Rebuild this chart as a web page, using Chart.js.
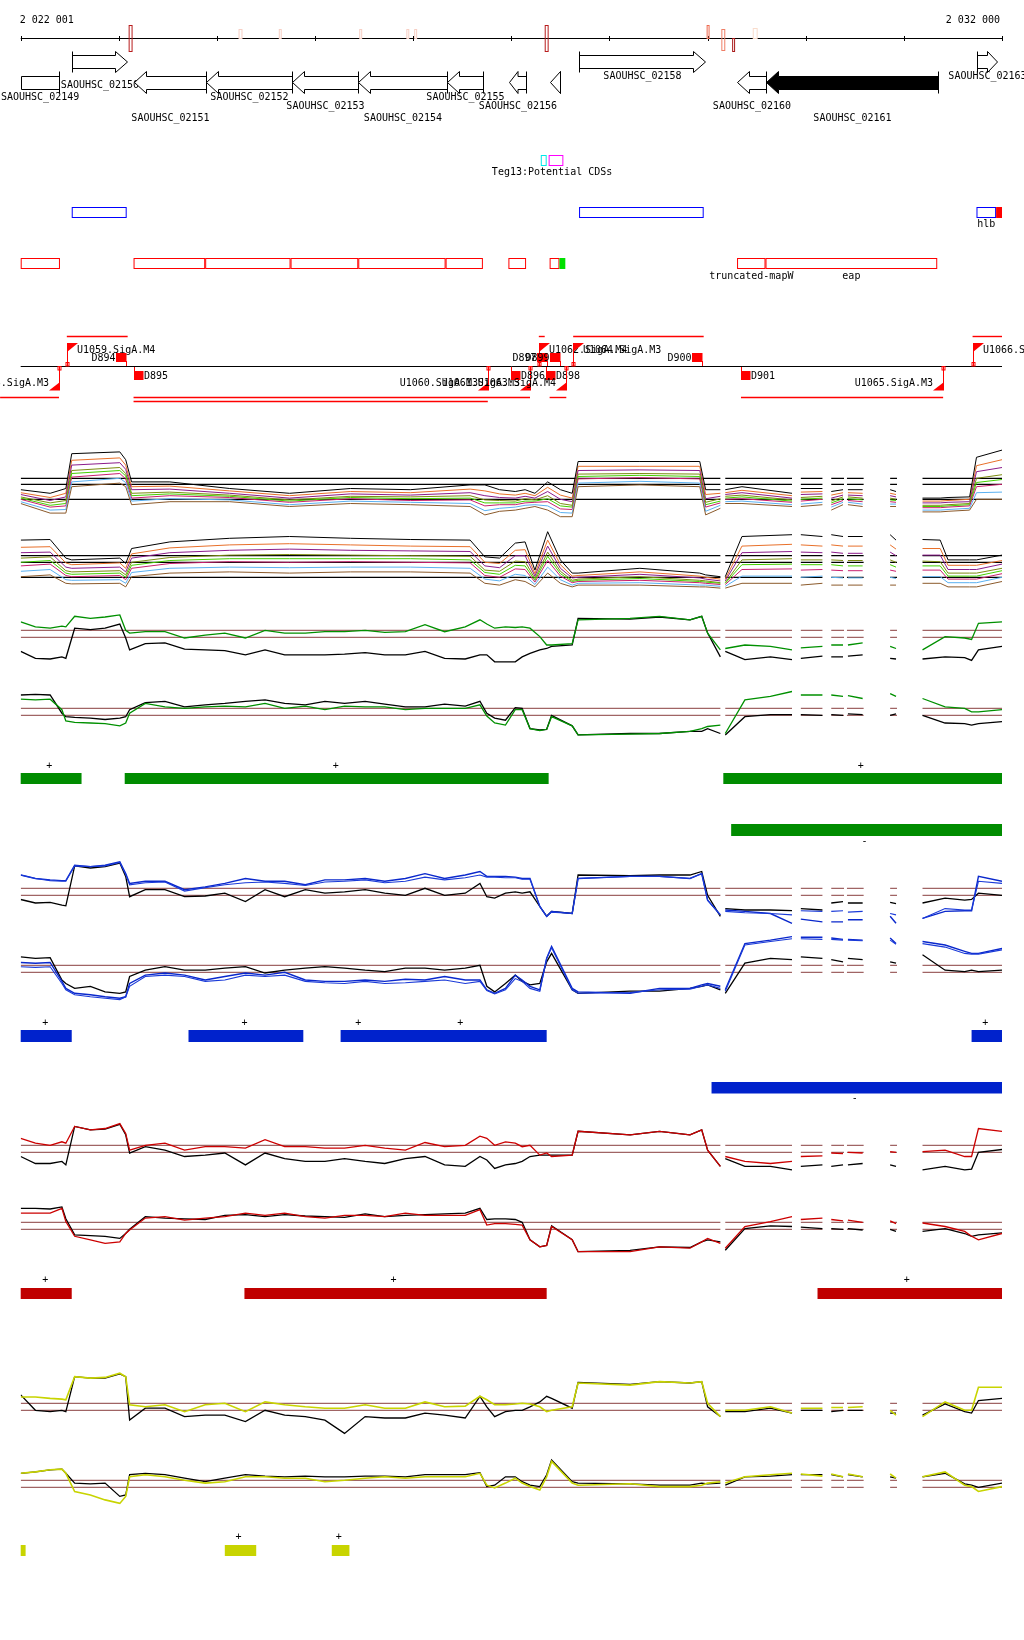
<!DOCTYPE html>
<html>
<head>
<meta charset="utf-8">
<title>SAOUHSC_02149 - SAOUHSC_02163</title>
<script src="https://cdn.jsdelivr.net/npm/chart.js@4.4.1/dist/chart.umd.min.js"></script>
<style>
  html, body { margin: 0; padding: 0; background: #fff; }
  canvas { display: block; }
</style>
</head>
<body>
<canvas id="browserChart" width="1024" height="1640"></canvas>
<script>
// region shown (bp)
const regionStart = 2022000;
const regionEnd = 2032000;
const axisLabels = ['2 022 001', '2 032 000'];
const axisTicks = [2022000, 2023000, 2024000, 2025000, 2026000, 2027000, 2028000, 2029000, 2030000, 2031000, 2032000];

// variant marks on the ruler
const markStarts = [2023100, 2024220, 2024630, 2025450, 2025930, 2026010, 2027340, 2028990, 2029140, 2029250, 2029460];
const markEnds   = [2023140, 2024260, 2024660, 2025480, 2025960, 2026040, 2027380, 2029020, 2029180, 2029280, 2029510];

// genes
const geneNames  = ['SAOUHSC_02149', 'SAOUHSC_02150', 'SAOUHSC_02151', 'SAOUHSC_02152', 'SAOUHSC_02153', 'SAOUHSC_02154', 'SAOUHSC_02155', 'SAOUHSC_02156', 'SAOUHSC_02157', 'SAOUHSC_02158', 'SAOUHSC_02160', 'SAOUHSC_02161', 'SAOUHSC_02163'];
const geneLeft   = [2021700, 2022520, 2023150, 2023890, 2024760, 2025440, 2026340, 2026980, 2027390, 2027690, 2029300, 2029600, 2031750];
const geneRight  = [2022390, 2023080, 2023890, 2024760, 2025440, 2026340, 2026710, 2027150, 2027500, 2028970, 2029600, 2031350, 2031950];
const geneStrand = ['-', '+', '-', '-', '-', '-', '-', '-', '-', '+', '-', '-', '+'];
const selectedGene = 'SAOUHSC_02161';

// other annotation tracks
const tegNames = ['Teg13', 'Potential CDSs'];
const tegStarts = [2027300, 2027380];
const tegEnds = [2027360, 2027530];
const blueStarts = [2022520, 2027690, 2031740];
const blueEnds = [2023080, 2028960, 2031940];
const blueNames = ['', '', 'hlb'];
const blueTail = [2031940, 2032000];
const redStarts = [2022000, 2023150, 2023880, 2024750, 2025440, 2026330, 2026970, 2027390, 2029300, 2029590];
const redEnds   = [2022400, 2023880, 2024750, 2025440, 2026330, 2026710, 2027150, 2027490, 2029590, 2031340];
const redNames  = ['', '', '', '', '', '', '', '', 'truncated-mapW', 'eap'];
const greenBox = [2027490, 2027550];

// SigA promoters (P) and terminators (T)
const sigNames  = ['U1058.SigA.M3', 'U1059.SigA.M4', 'D894', 'D895', 'U1060.SigA.M3', 'U1061.SigA.M3', 'D896', 'D897', 'U1062.SigA.M4', 'D899', 'D898', 'U1063.SigA.M4', 'U1064.SigA.M3', 'D900', 'D901', 'U1065.SigA.M3', 'U1066.SigA.M3'];
const sigPos    = [2022390, 2022470, 2023070, 2023150, 2026760, 2027190, 2027000, 2027360, 2027280, 2027500, 2027350, 2027560, 2027630, 2028940, 2029340, 2031400, 2031700];
const sigStrand = ['-', '+', '+', '-', '-', '-', '-', '+', '+', '+', '-', '-', '+', '+', '-', '-', '+'];
const sigKind   = ['P', 'P', 'T', 'T', 'P', 'P', 'T', 'T', 'P', 'T', 'T', 'P', 'P', 'T', 'T', 'P', 'P'];
const unitStarts = [2022470, 2027280, 2027630, 2031700, 2021790, 2023150, 2027390, 2029340, 2023150];
const unitEnds   = [2023090, 2027340, 2028960, 2032000, 2022390, 2027190, 2027560, 2031400, 2026760];
const unitLevel  = [0, 0, 0, 0, 1, 1, 1, 1, 2];

// covered segments of the tiling arrays
const segments = [[2022000, 2029130], [2029180, 2029860], [2029950, 2030170], [2030260, 2030390], [2030420, 2030590], [2030860, 2030930], [2031190, 2032000]];

// expression profiles, sample positions
const positions = [2022000, 2022150, 2022300, 2022420, 2022460, 2022550, 2022710, 2022860, 2023010, 2023070,
  2023110, 2023270, 2023470, 2023670, 2023880, 2024080, 2024290, 2024490, 2024690, 2024900,
  2025100, 2025300, 2025510, 2025710, 2025920, 2026120, 2026320, 2026530, 2026680, 2026750,
  2026830, 2026940, 2027040, 2027110, 2027190, 2027290, 2027360, 2027410, 2027620, 2027680,
  2028210, 2028510, 2028820, 2028940, 2029000, 2029130, 2029150, 2029180, 2029380, 2029640,
  2029860, 2029900, 2029950, 2030170, 2030210, 2030260, 2030380, 2030400, 2030430, 2030580,
  2030720, 2030860, 2030920, 2031060, 2031190, 2031420, 2031620, 2031690, 2031760, 2032000];

const greenPlus = [2.2, 1.5, 1.3, 1.6, 1.5, 3.0, 2.7, 2.9, 3.2, 1.0,
  0.6, 0.8, 0.8, -0.1, 0.3, 0.6, -0.1, 1.0, 0.6, 0.6,
  0.8, 0.8, 1.0, 0.7, 0.8, 1.8, 0.8, 1.5, 2.5, 1.9,
  1.3, 1.5, 1.4, 1.5, 1.3, 0.1, -1.1, -1.1, -0.9, 2.5,
  2.7, 3.0, 2.5, 3.0, 0.6, -1.8, null, -1.6, -1.1, -1.3,
  -1.8, null, -1.5, -1.3, null, -1.1, -1.1, null, -1.1, -0.8,
  null, -1.3, -1.6, null, -1.8, 0.1, -0.1, -0.3, 2.0, 2.2];
const greenPlusRef = [-2.0, -3.0, -3.1, -2.8, -3.0, 1.3, 1.1, 1.3, 1.9, -0.1,
  -1.8, -0.9, -0.8, -1.7, -1.8, -1.9, -2.5, -1.8, -2.5, -2.5,
  -2.5, -2.4, -2.2, -2.5, -2.5, -2.0, -3.0, -3.1, -2.5, -2.5,
  -3.5, -3.5, -3.5, -2.8, -2.3, -1.8, -1.6, -1.3, -1.1, 2.7,
  2.6, 2.9, 2.5, 3.0, 0.6, -2.8, null, -2.0, -3.2, -2.8,
  -3.2, null, -3.0, -2.7, null, -2.8, -2.8, null, -2.7, -2.5,
  null, -3.0, -3.1, null, -3.1, -2.8, -2.9, -3.3, -1.8, -1.3];
const greenMinus = [2.3, 2.2, 2.3, 0.8, -0.8, -1.0, -1.1, -1.2, -1.5, -1.1,
  0.3, 1.7, 1.2, 1.0, 1.2, 1.3, 1.2, 1.7, 1.0, 1.3,
  0.8, 1.3, 1.2, 1.2, 0.8, 1.0, 1.0, 1.0, 1.5, -0.1,
  -1.1, -1.4, 0.8, 0.8, -1.9, -2.2, -2.0, -0.2, -1.5, -2.8,
  -2.7, -2.6, -2.3, -1.9, -1.6, -1.4, null, -2.6, 2.2, 2.7,
  3.4, null, 2.9, 2.9, null, 2.9, 2.7, null, 2.8, 2.4,
  null, 3.1, 2.7, null, 2.4, 1.2, 1.0, 0.5, 0.5, 0.8];
const greenMinusRef = [2.9, 3.0, 2.9, 0.3, -0.2, -0.3, -0.4, -0.6, -0.4, -0.2,
  0.8, 1.8, 2.0, 1.2, 1.5, 1.7, 2.0, 2.2, 1.7, 1.5,
  2.0, 1.7, 2.0, 1.6, 1.2, 1.2, 1.6, 1.3, 2.0, 0.3,
  -0.4, -0.7, 1.1, 1.0, -1.9, -2.1, -2.0, 0.0, -1.5, -2.8,
  -2.6, -2.6, -2.3, -2.3, -1.9, -2.6, null, -2.8, -0.2, 0.1,
  0.1, null, 0.1, 0.0, null, 0.1, 0.0, null, 0.2, 0.1,
  null, 0.0, 0.2, null, 0.0, -1.1, -1.2, -1.4, -1.2, -0.9];

const bluePlusA = [2.9, 2.4, 2.2, 2.1, 2.1, 4.3, 4.1, 4.3, 4.8, 3.1,
  1.7, 2.0, 2.0, 0.8, 1.2, 1.7, 2.4, 2.0, 2.0, 1.5,
  2.2, 2.2, 2.4, 2.0, 2.4, 3.1, 2.4, 2.9, 3.4, 2.7,
  2.7, 2.7, 2.6, 2.4, 2.4, -1.6, -3.0, -2.3, -2.6, 2.4,
  2.7, 2.7, 2.4, 3.1, -0.7, -2.8, null, -2.1, -2.3, -2.6,
  -4.0, null, -3.4, -3.8, null, -3.8, -3.8, null, -3.5, -3.5,
  null, -3.0, -4.0, null, -3.3, -2.3, -2.2, -2.2, 2.7, 2.0];
const bluePlusB = [2.9, 2.4, 2.1, 2.0, 2.0, 4.2, 4.1, 4.2, 4.7, 3.0,
  1.5, 1.8, 1.9, 0.6, 1.1, 1.5, 1.8, 1.9, 1.7, 1.4,
  1.9, 2.0, 2.2, 1.8, 2.0, 2.6, 2.2, 2.5, 2.9, 2.6,
  2.6, 2.5, 2.5, 2.3, 2.3, -1.6, -3.0, -2.4, -2.6, 2.4,
  2.7, 2.7, 2.4, 3.1, -0.7, -2.8, null, -2.3, -2.5, -2.6,
  -2.8, null, -2.2, -2.3, null, -2.3, -2.2, null, -2.4, -2.3,
  null, -2.6, -2.8, null, -3.3, -1.9, -2.1, -2.1, 2.0, 1.7];
const bluePlusRef = [-0.6, -1.1, -1.0, -1.4, -1.5, 4.2, 3.9, 4.1, 4.6, 2.7,
  -0.2, 0.8, 0.8, -0.2, -0.1, 0.3, -0.9, 0.8, -0.2, 0.8,
  0.3, 0.5, 0.8, 0.3, 0.0, 1.0, 0.0, 0.3, 1.7, -0.2,
  -0.4, 0.3, 0.5, 0.3, 0.5, -1.6, -3.0, -2.3, -2.6, 2.9,
  2.8, 2.9, 2.9, 3.4, 0.0, -3.0, null, -1.9, -2.1, -2.1,
  -2.2, null, -1.9, -2.1, null, -1.1, -0.9, null, -1.1, -1.1,
  null, -1.0, -1.2, null, -1.1, -0.4, -0.7, -0.6, 0.3, 0.0];
const blueMinusA = [1.4, 1.3, 1.4, -1.3, -2.3, -3.0, -3.2, -3.5, -3.7, -3.5,
  -1.6, -0.4, -0.1, -0.4, -1.1, -0.6, -0.1, -0.4, 0.0, -1.1,
  -1.3, -1.3, -1.1, -1.3, -1.0, -1.1, -0.6, -1.1, -1.1, -2.5,
  -3.0, -2.3, -0.4, -1.1, -2.0, -2.5, 2.0, 3.7, -2.3, -2.8,
  -3.0, -2.3, -2.3, -1.8, -1.6, -2.0, null, -2.5, 4.1, 4.6,
  5.1, null, 5.0, 5.0, null, 4.9, 4.7, null, 4.7, 4.6,
  null, 4.9, 4.1, null, 4.4, 3.9, 3.0, 2.7, 2.7, 3.4];
const blueMinusB = [0.8, 0.7, 0.8, -1.6, -2.5, -3.2, -3.5, -3.7, -3.9, -3.5,
  -2.0, -0.6, -0.4, -0.6, -1.3, -1.1, -0.4, -0.6, -0.4, -1.3,
  -1.5, -1.6, -1.3, -1.6, -1.5, -1.3, -1.1, -1.6, -1.3, -2.6,
  -3.1, -2.5, -0.9, -1.3, -2.3, -2.7, 2.0, 3.5, -2.5, -3.0,
  -2.9, -2.5, -2.4, -2.0, -1.8, -2.3, null, -2.7, 3.9, 4.4,
  4.8, null, 4.8, 4.7, null, 4.7, 4.6, null, 4.6, 4.5,
  null, 4.6, 4.0, null, 4.1, 3.6, 2.7, 2.6, 2.6, 3.2];
const blueMinusRef = [2.2, 2.0, 2.1, -1.1, -1.6, -2.3, -2.0, -2.8, -3.0, -2.8,
  -0.6, 0.3, 0.8, 0.3, 0.3, 0.6, 0.8, -0.1, 0.3, 0.6,
  0.8, 0.6, 0.3, 0.1, 0.6, 0.6, 0.3, 0.6, 1.0, -2.0,
  -2.8, -1.6, -0.4, -1.3, -1.8, -1.6, 1.5, 2.7, -2.5, -3.0,
  -2.7, -2.7, -2.3, -2.0, -1.8, -2.5, null, -3.0, 1.3, 2.0,
  1.8, null, 2.2, 2.0, null, 1.8, 1.5, null, 2.0, 1.8,
  null, 1.5, 1.3, null, 2.5, 0.3, 0.1, 0.3, 0.1, 0.3];

const redPlus = [2.0, 1.3, 1.0, 1.5, 1.3, 3.7, 3.2, 3.4, 4.1, 2.7,
  0.3, 1.0, 1.3, 0.3, 0.8, 0.8, 0.6, 1.8, 0.8, 0.8,
  0.6, 0.6, 1.0, 0.6, 0.3, 1.4, 0.8, 1.0, 2.3, 2.0,
  1.0, 1.5, 1.3, 0.8, 1.0, -0.4, -0.1, -0.6, -0.4, 3.0,
  2.5, 3.0, 2.5, 3.2, 0.3, -2.0, null, -0.6, -1.3, -1.6,
  -1.3, null, -0.6, -0.5, null, -0.1, -0.2, null, 0.0, -0.1,
  null, 0.1, 0.0, null, 0.1, 0.3, -0.6, -0.6, 3.4, 3.0];
const redPlusRef = [-0.6, -1.6, -1.6, -1.3, -1.8, 3.7, 3.2, 3.3, 4.0, 2.5,
  -0.1, 0.8, 0.3, -0.6, -0.4, -0.1, -1.8, -0.1, -0.9, -1.3,
  -1.3, -0.9, -1.3, -1.6, -0.9, -0.6, -1.8, -2.0, -0.6, -1.1,
  -2.3, -1.8, -1.6, -1.3, -0.6, -0.4, -0.4, -0.4, -0.4, 3.0,
  2.5, 3.0, 2.5, 3.2, 0.3, -2.0, null, -0.9, -2.0, -2.0,
  -2.5, null, -2.0, -1.8, null, -2.0, -1.8, null, -1.8, -1.6,
  null, -1.8, -2.0, null, -2.5, -2.0, -2.5, -2.4, 0.0, 0.4];
const redMinus = [2.3, 2.3, 2.3, 3.0, 1.1, -1.0, -1.5, -2.0, -1.8, -0.6,
  -0.1, 1.6, 1.8, 1.3, 1.6, 1.8, 2.3, 2.0, 2.3, 1.8,
  1.6, 2.0, 2.0, 1.8, 2.3, 2.0, 2.0, 2.0, 2.8, 0.6,
  0.8, 0.8, 0.7, 0.6, -1.5, -2.5, -2.3, 0.4, -1.5, -3.2,
  -3.2, -2.5, -2.7, -1.8, -1.3, -2.0, null, -2.7, 0.4, 1.1,
  1.8, null, 1.4, 1.6, null, 1.4, 1.2, null, 1.3, 1.0,
  null, 1.2, 0.8, null, 0.9, 0.4, -0.3, -1.0, -1.5, -0.6];
const redMinusRef = [3.0, 3.0, 2.9, 3.2, 1.5, -0.8, -0.9, -1.0, -1.3, -0.6,
  0.0, 1.8, 1.6, 1.5, 1.4, 2.0, 2.1, 1.8, 2.1, 1.9,
  1.8, 1.7, 2.2, 1.8, 2.0, 2.1, 2.2, 2.3, 3.0, 1.4,
  1.5, 1.5, 1.4, 1.0, -1.5, -2.5, -2.3, 0.5, -1.5, -3.2,
  -3.0, -2.5, -2.6, -1.8, -1.5, -1.8, null, -3.0, 0.1, 0.5,
  0.4, null, 0.3, 0.1, null, 0.1, 0.0, null, 0.1, -0.1,
  null, 0.0, -0.3, null, -0.3, 0.1, -0.6, -1.0, -0.8, -0.5];

const yellowPlus = [1.9, 1.9, 1.7, 1.6, 1.5, 4.8, 4.6, 4.7, 5.3, 4.8,
  0.8, 0.5, 0.8, -0.2, 0.8, 1.0, -0.2, 1.2, 0.8, 0.5,
  0.3, 0.3, 0.8, 0.3, 0.3, 1.2, 0.5, 0.6, 2.0, 1.5,
  0.8, 0.8, 0.9, 1.0, 0.9, 0.5, -0.2, 0.0, 0.5, 3.9,
  3.6, 4.1, 3.9, 4.1, 1.0, -0.9, null, 0.0, 0.0, 0.5,
  -0.4, null, 0.3, 0.3, null, 0.4, 0.4, null, 0.4, 0.5,
  null, 0.0, -0.7, null, -0.9, 1.2, 0.0, 0.0, 3.3, 3.3];
const yellowPlusRef = [2.2, 0.0, -0.2, 0.0, -0.2, 4.8, 4.6, 4.6, 5.2, 4.8,
  -1.4, 0.3, 0.3, -0.9, -0.7, -0.7, -1.6, 0.0, -0.7, -0.9,
  -1.4, -3.3, -0.9, -1.1, -1.1, -0.4, -0.7, -1.1, 2.0, 0.5,
  -0.9, -0.2, 0.0, 0.0, 0.5, 1.2, 2.0, 1.7, 0.3, 4.0,
  3.7, 4.1, 3.9, 4.1, 0.5, -0.9, null, -0.2, -0.2, 0.3,
  -0.4, null, 0.0, 0.0, null, -0.2, 0.0, null, 0.0, 0.0,
  null, -0.4, -0.4, null, -0.7, 0.9, -0.2, -0.4, 1.4, 1.7];
const yellowMinus = [2.0, 2.2, 2.5, 2.6, 2.0, -0.6, -1.1, -1.8, -2.3, -1.3,
  1.5, 1.8, 1.5, 1.0, 0.6, 0.8, 1.5, 1.5, 1.3, 1.3,
  0.8, 1.0, 1.3, 1.5, 1.3, 1.5, 1.5, 1.5, 2.0, 0.3,
  -0.1, 0.6, 1.3, 0.6, 0.1, -0.4, 1.5, 3.7, 0.6, 0.3,
  0.5, 0.1, 0.1, 0.3, 0.6, 0.8, null, 0.6, 1.5, 1.8,
  2.0, null, 1.9, 1.6, null, 1.9, 1.5, null, 1.9, 1.5,
  null, 1.9, 1.3, null, 1.5, 2.2, 0.3, 0.1, -0.6, 0.1];
const yellowMinusRef = [2.0, 2.2, 2.5, 2.6, 2.0, 0.6, 0.5, 0.6, -1.3, -1.1,
  1.8, 2.0, 1.8, 1.3, 0.8, 1.3, 1.8, 1.6, 1.5, 1.6,
  1.5, 1.5, 1.6, 1.6, 1.5, 1.8, 1.8, 1.8, 2.1, 0.1,
  0.3, 1.5, 1.5, 0.8, 0.3, 0.1, 1.8, 3.9, 0.8, 0.6,
  0.5, 0.3, 0.3, 0.6, 0.5, 0.6, null, 0.3, 1.5, 1.6,
  1.8, null, 1.8, 1.8, null, 1.8, 1.5, null, 1.8, 1.5,
  null, 1.5, 1.3, null, 1.5, 2.0, 0.5, 0.3, 0.0, 0.6];

// all-conditions panels (coarser sampling)
const mcPositions = [2022000, 2022300, 2022460, 2022520, 2023010, 2023070, 2023130, 2023520, 2024130, 2024740,
  2025360, 2025970, 2026580, 2026730, 2026880, 2027040, 2027140, 2027240, 2027370, 2027500,
  2027620, 2027680, 2028310, 2028920, 2028980, 2029130, 2029150, 2029180, 2029350, 2029860,
  2029900, 2029950, 2030170, 2030210, 2030260, 2030380, 2030400, 2030430, 2030580, 2030720,
  2030860, 2030920, 2031060, 2031190, 2031370, 2031450, 2031670, 2031740, 2032000];
const allPlus = [
  [1.6, 1.0, 1.8, 7.6, 7.9, 6.6, 2.9, 2.9, 1.8, 1.0, 1.8, 1.6, 2.4, 2.4, 1.6, 1.3, 1.6, 1.0, 2.9, 1.6, 1.0, 6.3, 6.3, 6.3, 1.6, 1.6, null, 1.6, 2.1, 1.0, null, 1.8, 1.8, null, 1.3, 1.6, null, 1.6, 1.6, null, 1.6, 1.3, null, 0.2, 0.2, 0.3, 0.4, 7.0, 8.2],
  [1.1, 0.3, 1.0, 6.5, 6.9, 5.7, 2.1, 2.2, 1.4, 0.6, 1.3, 1.1, 1.7, 1.4, 0.9, 0.7, 1.0, 0.6, 2.0, 0.7, 0.2, 5.5, 5.5, 5.5, 0.8, 1.0, null, 1.1, 1.5, 0.6, null, 1.2, 1.3, null, 0.7, 1.1, null, 1.1, 1.0, null, 1.0, 0.8, null, -0.3, -0.3, -0.2, 0.0, 5.6, 6.6],
  [0.8, -0.2, 0.4, 5.7, 6.1, 5.0, 1.6, 1.7, 1.0, 0.2, 0.9, 0.7, 1.1, 0.6, 0.3, 0.2, 0.5, 0.2, 1.3, 0.0, -0.4, 4.8, 4.9, 4.8, 0.1, 0.5, null, 0.8, 1.1, 0.2, null, 0.8, 0.9, null, 0.2, 0.7, null, 0.7, 0.6, null, 0.6, 0.4, null, -0.6, -0.6, -0.5, -0.4, 4.6, 5.3],
  [0.4, -0.6, -0.2, 4.8, 5.3, 4.3, 1.0, 1.2, 0.7, -0.1, 0.5, 0.4, 0.6, -0.1, -0.2, -0.3, 0.1, -0.1, 0.6, -0.7, -1.0, 4.2, 4.3, 4.2, -0.5, 0.1, null, 0.5, 0.7, -0.1, null, 0.3, 0.5, null, -0.3, 0.4, null, 0.4, 0.2, null, 0.2, 0.0, null, -1.0, -1.0, -0.9, -0.7, 3.5, 4.1],
  [0.2, -1.0, -0.7, 4.3, 4.8, 3.9, 0.6, 0.9, 0.5, -0.3, 0.3, 0.1, 0.2, -0.6, -0.6, -0.6, -0.3, -0.3, 0.1, -1.1, -1.3, 3.8, 4.0, 3.8, -0.9, -0.3, null, 0.2, 0.4, -0.3, null, 0.0, 0.2, null, -0.6, 0.1, null, 0.1, -0.1, null, -0.1, -0.2, null, -1.2, -1.2, -1.1, -0.9, 2.8, 3.3],
  [0.0, -1.3, -1.1, 3.7, 4.3, 3.4, 0.2, 0.6, 0.3, -0.5, 0.1, -0.2, -0.1, -1.1, -0.9, -0.9, -0.6, -0.5, -0.4, -1.6, -1.7, 3.4, 3.6, 3.4, -1.3, -0.6, null, 0.0, 0.1, -0.5, null, -0.3, 0.0, null, -0.9, -0.2, null, -0.2, -0.4, null, -0.4, -0.5, null, -1.4, -1.4, -1.3, -1.1, 2.1, 2.5],
  [-0.4, -1.8, -1.7, 2.9, 3.5, 2.8, -0.3, 0.1, -0.1, -0.9, -0.3, -0.5, -0.7, -1.9, -1.5, -1.3, -1.0, -0.9, -1.1, -2.2, -2.3, 2.7, 3.0, 2.7, -2.0, -1.0, null, -0.4, -0.3, -0.9, null, -0.8, -0.5, null, -1.3, -0.5, null, -0.5, -0.8, null, -0.8, -0.8, null, -1.8, -1.8, -1.7, -1.5, 1.1, 1.2],
  [-0.7, -2.3, -2.3, 2.1, 2.7, 2.1, -0.9, -0.4, -0.4, -1.2, -0.7, -0.9, -1.2, -2.6, -2.0, -1.8, -1.5, -1.2, -1.8, -2.9, -2.9, 2.1, 2.4, 2.1, -2.6, -1.5, null, -0.7, -0.7, -1.2, null, -1.2, -0.9, null, -1.8, -0.9, null, -0.9, -1.2, null, -1.2, -1.2, null, -2.1, -2.1, -2.0, -1.8, 0.0, 0.0]
];
const allMinus = [
  [6.2, 6.3, 3.2, 2.9, 3.2, 2.3, 4.8, 5.9, 6.5, 6.8, 6.5, 6.3, 6.2, 3.4, 3.2, 5.7, 5.9, 1.2, 7.6, 2.9, 0.7, 0.7, 1.5, 0.7, 0.4, 0.1, null, 0.1, 6.8, 7.1, null, 7.1, 6.8, null, 7.1, 6.8, null, 6.8, 6.8, null, 7.1, 6.2, null, 6.3, 6.2, 2.9, 2.9, 2.9, 3.7],
  [5.0, 5.1, 2.4, 2.1, 2.4, 1.5, 3.9, 4.9, 5.4, 5.6, 5.4, 5.2, 5.1, 2.5, 2.3, 4.5, 4.6, 0.6, 6.2, 2.1, 0.2, 0.3, 0.9, 0.2, 0.0, -0.3, null, -0.3, 5.2, 5.5, null, 5.4, 5.2, null, 5.4, 5.2, null, 5.2, 5.2, null, 5.4, 4.7, null, 4.8, 4.8, 2.0, 2.0, 2.0, 2.8],
  [4.1, 4.2, 1.7, 1.5, 1.7, 0.9, 3.2, 4.1, 4.5, 4.7, 4.5, 4.4, 4.3, 1.9, 1.6, 3.6, 3.6, 0.2, 5.2, 1.5, -0.1, 0.0, 0.5, -0.1, -0.3, -0.6, null, -0.6, 4.1, 4.3, null, 4.2, 4.1, null, 4.2, 4.0, null, 4.0, 4.0, null, 4.2, 3.6, null, 3.7, 3.7, 1.3, 1.3, 1.3, 2.2],
  [3.2, 3.4, 1.1, 0.9, 1.1, 0.4, 2.5, 3.3, 3.7, 3.8, 3.7, 3.6, 3.5, 1.2, 1.0, 2.7, 2.6, -0.2, 4.2, 1.0, -0.5, -0.3, 0.1, -0.5, -0.6, -0.9, null, -0.9, 2.9, 3.1, null, 2.9, 2.9, null, 2.9, 2.8, null, 2.8, 2.8, null, 2.9, 2.5, null, 2.7, 2.6, 0.7, 0.7, 0.7, 1.5],
  [2.5, 2.8, 0.7, 0.5, 0.7, 0.0, 2.0, 2.8, 3.1, 3.1, 3.1, 3.1, 2.9, 0.8, 0.5, 2.0, 1.9, -0.5, 3.5, 0.6, -0.7, -0.5, -0.2, -0.7, -0.8, -1.0, null, -1.0, 2.1, 2.2, null, 2.1, 2.1, null, 2.1, 1.9, null, 1.9, 1.9, null, 2.1, 1.7, null, 1.9, 1.9, 0.2, 0.2, 0.2, 1.1],
  [1.9, 2.2, 0.3, 0.1, 0.3, -0.4, 1.5, 2.3, 2.6, 2.5, 2.6, 2.5, 2.4, 0.3, 0.0, 1.4, 1.3, -0.8, 2.8, 0.2, -0.9, -0.7, -0.5, -0.9, -1.0, -1.2, null, -1.2, 1.3, 1.4, null, 1.2, 1.3, null, 1.2, 1.1, null, 1.1, 1.1, null, 1.2, 1.0, null, 1.2, 1.2, -0.3, -0.3, -0.3, 0.6],
  [1.0, 1.3, -0.4, -0.5, -0.4, -1.0, 0.8, 1.5, 1.7, 1.6, 1.7, 1.7, 1.5, -0.3, -0.6, 0.5, 0.3, -1.2, 1.7, -0.4, -1.3, -1.0, -0.9, -1.3, -1.3, -1.5, null, -1.5, 0.2, 0.2, null, 0.0, 0.2, null, 0.0, -0.1, null, -0.1, -0.1, null, 0.0, -0.2, null, 0.1, 0.1, -0.9, -0.9, -0.9, 0.0],
  [0.1, 0.4, -1.0, -1.1, -1.0, -1.6, 0.1, 0.7, 0.9, 0.7, 0.9, 0.9, 0.7, -1.0, -1.3, -0.4, -0.7, -1.6, 0.7, -1.0, -1.6, -1.3, -1.3, -1.6, -1.6, -1.8, null, -1.8, -1.0, -1.0, null, -1.3, -1.0, null, -1.3, -1.3, null, -1.3, -1.3, null, -1.3, -1.3, null, -1.0, -1.0, -1.6, -1.6, -1.6, -0.7]
];
const allColors = ['#000000', '#e8702a', '#8b1c8b', '#7c8c10', '#44d000', '#c8206e', '#5ab0f0', '#8b5a2b'];

// transcribed regions under each condition
const greenSegStarts = [2022000, 2023060, 2029160];
const greenSegEnds = [2022620, 2027380, 2032000];
const greenPlusMarks = [2022290, 2025210, 2030560];
const greenAntiSeg = [2029240, 2032000];
const greenMinusMark = 2030600;
const blueSegStarts = [2022000, 2023710, 2025260, 2031690];
const blueSegEnds = [2022520, 2024880, 2027360, 2032000];
const bluePlusMarks = [2022250, 2024280, 2025440, 2026480, 2031830];
const blueAntiSeg = [2029040, 2032000];
const blueMinusMark = 2030500;
const redSegStarts = [2022000, 2024280, 2030120];
const redSegEnds = [2022520, 2027360, 2032000];
const redPlusMarks = [2022250, 2025800, 2031030];
const yellowSegStarts = [2022000, 2024080, 2025170];
const yellowSegEnds = [2022050, 2024400, 2025350];
const yellowPlusMarks = [2024220, 2025240];

document.addEventListener("DOMContentLoaded", function () {

    const FONT = "10px 'DejaVu Sans Mono', 'Liberation Mono', monospace";
    const H = 1640;

    // panel layout: pixel of value 0 and pixels per unit
    const panels = {
        yAllP: { zero: 499.3, unit: 6 },
        yAllM: { zero: 577.3, unit: 6 },
        yG1: { zero: 637.3, unit: 7 },
        yG2: { zero: 715.3, unit: 7 },
        yB1: { zero: 895.3, unit: 7 },
        yB2: { zero: 972.3, unit: 7 },
        yR1: { zero: 1152.3, unit: 7 },
        yR2: { zero: 1229.3, unit: 7 },
        yY1: { zero: 1410.3, unit: 7 },
        yY2: { zero: 1487.3, unit: 7 }
    };

    const scales = {
        x: { type: 'linear', min: regionStart, max: regionEnd, display: false },
        yPx: { type: 'linear', min: 0, max: H, reverse: true, display: false }
    };
    Object.keys(panels).forEach(function (id) {
        const p = panels[id];
        scales[id] = { type: 'linear', min: (p.zero - H) / p.unit, max: p.zero / p.unit, display: false };
    });

    const datasets = [];

    function addSeries(xs, ys, axis, color, width, order) {
        datasets.push({
            data: xs.map(function (x, i) { return { x: x, y: ys[i] }; }),
            yAxisID: axis,
            borderColor: color,
            borderWidth: width,
            showLine: true,
            pointRadius: 0,
            tension: 0,
            spanGaps: false,
            order: order
        });
    }

    function addRefLine(axis, value, color, width) {
        const pts = [];
        segments.forEach(function (s) {
            pts.push({ x: s[0], y: value }, { x: s[1], y: value }, { x: s[1], y: null });
        });
        datasets.push({
            data: pts, yAxisID: axis, borderColor: color, borderWidth: width,
            showLine: true, pointRadius: 0, spanGaps: false, order: 5
        });
    }

    // all-conditions panels
    [0, 2.5, 3.5].forEach(function (v) { addRefLine('yAllP', v, '#000000', 1.3); });
    [0, 2.5, 3.6].forEach(function (v) { addRefLine('yAllM', v, '#000000', 1.3); });
    for (let k = allPlus.length - 1; k >= 0; k--) {
        addSeries(mcPositions, allPlus[k], 'yAllP', allColors[k], 1, k === 0 ? 0 : 3);
        addSeries(mcPositions, allMinus[k], 'yAllM', allColors[k], 1, k === 0 ? 0 : 3);
    }

    // single condition panels
    const refBrown = '#a06464';
    ['yG1', 'yG2', 'yB1', 'yB2', 'yR1', 'yR2', 'yY1', 'yY2'].forEach(function (id) {
        addRefLine(id, 0, refBrown, 1.3);
        addRefLine(id, 1, refBrown, 1.3);
    });

    addSeries(positions, greenPlusRef, 'yG1', '#000000', 1.3, 2);
    addSeries(positions, greenPlus, 'yG1', '#009000', 1.3, 1);
    addSeries(positions, greenMinusRef, 'yG2', '#000000', 1.3, 2);
    addSeries(positions, greenMinus, 'yG2', '#009000', 1.3, 1);

    addSeries(positions, bluePlusRef, 'yB1', '#000000', 1.3, 2);
    addSeries(positions, bluePlusB, 'yB1', '#1a3ad8', 1.1, 1);
    addSeries(positions, bluePlusA, 'yB1', '#0a28cc', 1.4, 1);
    addSeries(positions, blueMinusRef, 'yB2', '#000000', 1.3, 2);
    addSeries(positions, blueMinusB, 'yB2', '#1a3ad8', 1.1, 1);
    addSeries(positions, blueMinusA, 'yB2', '#0a28cc', 1.4, 1);

    addSeries(positions, redPlusRef, 'yR1', '#000000', 1.3, 2);
    addSeries(positions, redPlus, 'yR1', '#cc0000', 1.3, 1);
    addSeries(positions, redMinusRef, 'yR2', '#000000', 1.3, 2);
    addSeries(positions, redMinus, 'yR2', '#cc0000', 1.3, 1);

    addSeries(positions, yellowPlusRef, 'yY1', '#000000', 1.3, 2);
    addSeries(positions, yellowPlus, 'yY1', '#c8d400', 1.6, 1);
    addSeries(positions, yellowMinusRef, 'yY2', '#000000', 1.3, 2);
    addSeries(positions, yellowMinus, 'yY2', '#c8d400', 1.6, 1);

    // annotations drawn through the x scale
    const annotations = {
        id: 'annotations',
        afterDraw: function (chart) {
            const ctx = chart.ctx;
            const sx = chart.scales.x;
            const sy = chart.scales.yPx;
            const area = chart.chartArea;
            const X = function (v) { return sx.getPixelForValue(v); };
            const Y = function (v) { return sy.getPixelForValue(v); };

            ctx.save();
            ctx.font = FONT;
            ctx.textBaseline = 'middle';
            ctx.lineWidth = 1;

            function label(str, x, y, align, color) {
                ctx.fillStyle = color || '#000';
                ctx.textAlign = align || 'left';
                ctx.fillText(str, x, y);
            }
            function hline(x1, x2, y, color, w) {
                ctx.strokeStyle = color; ctx.lineWidth = w || 1;
                ctx.beginPath(); ctx.moveTo(x1, y); ctx.lineTo(x2, y); ctx.stroke();
            }
            function vline(x, y1, y2, color) {
                ctx.strokeStyle = color; ctx.lineWidth = 1;
                ctx.beginPath(); ctx.moveTo(x, y1); ctx.lineTo(x, y2); ctx.stroke();
            }
            function box(s, e, top, bottom, stroke, fill) {
                const x1 = X(s), x2 = X(e);
                if (fill) { ctx.fillStyle = fill; ctx.fillRect(x1, Y(top), x2 - x1, Y(bottom) - Y(top)); }
                if (stroke) { ctx.strokeStyle = stroke; ctx.lineWidth = 1; ctx.strokeRect(x1 + 0.5, Y(top) + 0.5, x2 - x1 - 1, Y(bottom) - Y(top) - 1); }
            }

            // ruler
            label(axisLabels[0], X(regionStart) - 1, Y(20), 'left');
            label(axisLabels[1], X(regionEnd) - 2, Y(20), 'right');
            hline(X(regionStart), X(regionEnd), Y(38.5), '#000');
            axisTicks.forEach(function (t) { vline(Math.round(X(t)) + 0.5, Y(36), Y(41), '#000'); });
            const markTop = [25, 29, 29, 29, 29, 29, 25, 25, 29, 38, 28];
            const markBottom = [52, 39, 39, 39, 39, 39, 52, 39, 51, 52, 39];
            const markColor = ['#b81c1c', '#f7cfc4', '#f7cfc4', '#f7cfc4', '#f7cfc4', '#f7cfc4', '#b81c1c', '#ee6a50', '#ef7e66', '#a81818', '#f9dccc'];
            markStarts.forEach(function (s, i) { box(s, markEnds[i], markTop[i], markBottom[i], markColor[i]); });

            // genes
            const rows = {
                '+': { top: 51.5, bottom: 72.5, bodyTop: 55.5, bodyBottom: 68.5 },
                '-': { top: 71.5, bottom: 93.5, bodyTop: 76.5, bodyBottom: 89.5 }
            };
            const labelRowY = [76, 85, 97, 106, 118];
            const geneLabelRow = [2, 1, 4, 2, 3, 4, 2, 3, -1, 0, 3, 4, 0];
            geneNames.forEach(function (name, i) {
                const g = rows[geneStrand[i]];
                let x1 = Math.round(X(geneLeft[i])) + 0.5;
                const x2 = Math.round(X(geneRight[i])) + 0.5;
                let clipped = false;
                if (x1 < area.left) { x1 = Math.round(area.left) + 0.5; clipped = true; }
                const len = x2 - x1;
                const head = len <= 12 ? len : Math.min(12, len * 0.5);
                const mid = (Y(g.top) + Y(g.bottom)) / 2;
                ctx.beginPath();
                if (geneStrand[i] === '+') {
                    ctx.moveTo(x1, Y(g.bodyTop)); ctx.lineTo(x2 - head, Y(g.bodyTop)); ctx.lineTo(x2 - head, Y(g.top));
                    ctx.lineTo(x2, mid); ctx.lineTo(x2 - head, Y(g.bottom)); ctx.lineTo(x2 - head, Y(g.bodyBottom)); ctx.lineTo(x1, Y(g.bodyBottom));
                } else if (clipped) {
                    ctx.rect(x1, Y(g.bodyTop), len, Y(g.bodyBottom) - Y(g.bodyTop));
                } else {
                    ctx.moveTo(x2, Y(g.bodyTop)); ctx.lineTo(x1 + head, Y(g.bodyTop)); ctx.lineTo(x1 + head, Y(g.top));
                    ctx.lineTo(x1, mid); ctx.lineTo(x1 + head, Y(g.bottom)); ctx.lineTo(x1 + head, Y(g.bodyBottom)); ctx.lineTo(x2, Y(g.bodyBottom));
                }
                ctx.closePath();
                ctx.fillStyle = name === selectedGene ? '#000' : '#fff';
                ctx.fill();
                ctx.strokeStyle = '#000'; ctx.lineWidth = 1; ctx.stroke();
                const startX = geneStrand[i] === '+' ? x1 : x2;
                vline(startX, Y(g.top), Y(g.bottom), '#000');
                if (geneLabelRow[i] >= 0) {
                    label(name, (X(geneLeft[i]) > area.left ? (x1 + x2) / 2 : (area.left + x2) / 2), Y(labelRowY[geneLabelRow[i]]), 'center');
                }
            });

            // Teg13 potential CDSs
            box(tegStarts[0], tegEnds[0], 155, 166, '#00e8e8');
            box(tegStarts[1], tegEnds[1], 155, 166, '#ff00ff');
            label(tegNames.join(':'), (X(tegStarts[0]) + X(tegEnds[1])) / 2, Y(172), 'center');

            // blue annotation row
            blueStarts.forEach(function (s, i) {
                box(s, blueEnds[i], 207, 218, '#0000ff');
                if (blueNames[i]) label(blueNames[i], (X(s) + X(blueEnds[i])) / 2, Y(224.5), 'center');
            });
            box(blueTail[0], blueTail[1], 207, 218, null, '#ff0000');

            // red annotation row
            redStarts.forEach(function (s, i) {
                box(s, redEnds[i], 258, 269, '#ff0000');
                if (redNames[i]) label(redNames[i], (X(s) + X(redEnds[i])) / 2, Y(276), 'center');
            });
            box(greenBox[0], greenBox[1], 258, 269, null, '#00e000');

            // SigA promoters / terminators
            hline(X(regionStart), X(regionEnd), Y(366.5), '#000');
            const unitY = [336.5, 397.5, 401.5];
            unitStarts.forEach(function (s, i) {
                hline(Math.max(0, X(s)), X(unitEnds[i]), Y(unitY[unitLevel[i]]), '#ff0000', 1.4);
            });
            ctx.fillStyle = '#ff0000';
            sigNames.forEach(function (name, i) {
                const x = Math.round(X(sigPos[i])) + 0.5;
                const up = sigStrand[i] === '+';
                if (sigKind[i] === 'P') {
                    if (up) {
                        vline(x, Y(343.5), Y(366), '#ff0000');
                        ctx.fillStyle = '#ff0000';
                        ctx.beginPath(); ctx.moveTo(x - 0.5, Y(343)); ctx.lineTo(x + 10.5, Y(343)); ctx.lineTo(x - 0.5, Y(352)); ctx.closePath(); ctx.fill();
                        ctx.strokeStyle = '#ff0000'; ctx.strokeRect(x - 1.5, Y(362.5), 3, 3.5);
                        label(name, x + 9.5, Y(350), 'left');
                    } else {
                        vline(x, Y(367), Y(390), '#ff0000');
                        ctx.fillStyle = '#ff0000';
                        ctx.beginPath(); ctx.moveTo(x + 0.5, Y(390.5)); ctx.lineTo(x - 10.5, Y(390.5)); ctx.lineTo(x + 0.5, Y(382)); ctx.closePath(); ctx.fill();
                        ctx.strokeStyle = '#ff0000'; ctx.strokeRect(x - 1.5, Y(366.5), 3, 3.5);
                        label(name, x - 10.5, Y(383.5), 'right');
                    }
                } else {
                    if (up) {
                        vline(x, Y(361), Y(366), '#ff0000');
                        ctx.fillStyle = '#ff0000'; ctx.fillRect(x - 10.5, Y(353), 10.5, 9);
                        label(name, x - 11, Y(358), 'right');
                    } else {
                        vline(x, Y(367), Y(372), '#ff0000');
                        ctx.fillStyle = '#ff0000'; ctx.fillRect(x - 0.5, Y(371), 9.5, 9);
                        label(name, x + 9.5, Y(376), 'left');
                    }
                }
            });

            // transcribed regions
            function segRow(starts, ends, top, bottom, color) {
                starts.forEach(function (s, i) { box(s, ends[i], top, bottom, null, color); });
            }
            function marks(list, y, sign) {
                list.forEach(function (m) { label(sign, X(m), Y(y), 'center'); });
            }
            segRow(greenSegStarts, greenSegEnds, 773, 784, '#008c00');
            marks(greenPlusMarks, 766, '+');
            segRow([greenAntiSeg[0]], [greenAntiSeg[1]], 824, 836, '#008c00');
            marks([greenMinusMark], 841, '-');

            segRow(blueSegStarts, blueSegEnds, 1030, 1042, '#0022cc');
            marks(bluePlusMarks, 1023, '+');
            segRow([blueAntiSeg[0]], [blueAntiSeg[1]], 1082, 1093.5, '#0022cc');
            marks([blueMinusMark], 1098, '-');

            segRow(redSegStarts, redSegEnds, 1288, 1299, '#c00000');
            marks(redPlusMarks, 1280, '+');

            segRow(yellowSegStarts, yellowSegEnds, 1545, 1556, '#c8d400');
            marks(yellowPlusMarks, 1537, '+');

            ctx.restore();
        }
    };

    const canvas = document.getElementById("browserChart");
    const ctx = canvas.getContext("2d");

    new Chart(ctx, {
        type: 'scatter',
        data: { datasets: datasets },
        options: {
            responsive: false,
            devicePixelRatio: 1,
            animation: false,
            layout: { padding: { left: 20.7, right: 22, top: 0, bottom: 0 } },
            scales: scales,
            plugins: {
                legend: { display: false },
                tooltip: { enabled: false }
            },
            elements: { line: { tension: 0 }, point: { radius: 0 } }
        },
        plugins: [annotations]
    });

});
</script>
</body>
</html>
